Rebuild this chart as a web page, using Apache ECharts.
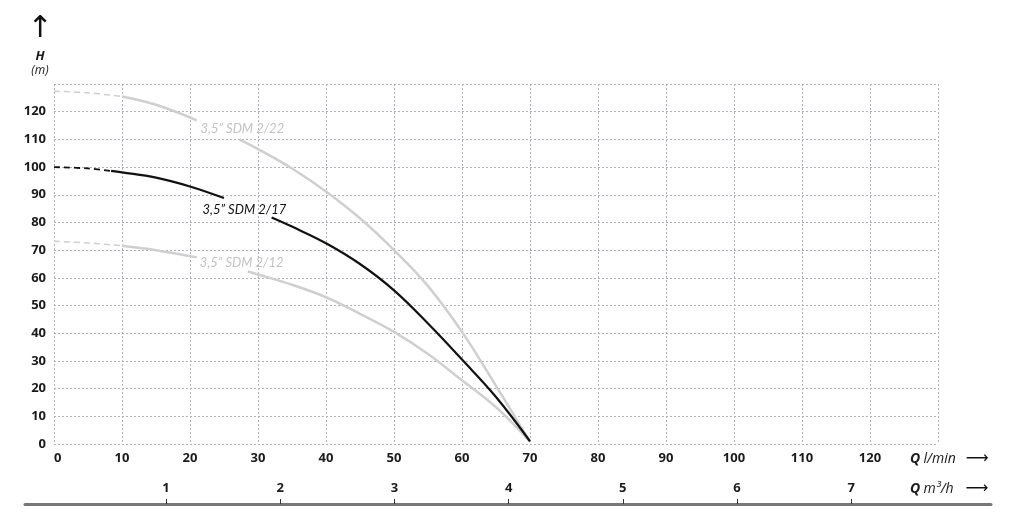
<!DOCTYPE html>
<html>
<head>
<meta charset="utf-8">
<script src="https://cdn.jsdelivr.net/npm/echarts@6/dist/echarts.min.js"></script>
<style>
  html, body { margin: 0; padding: 0; background: #fff; }
  #chart { width: 1024px; height: 526px; }
</style>
</head>
<body>
<div id="chart"></div>
<script>
// Q (l/min), H (m); each curve is split: dashed start, solid, gap for its label, solid
const sdm22Dash = [[0, 127.4], [5, 126.8], [10, 125.5]]
const sdm22A = [[10, 125.5], [15, 122.5], [21, 116.9]]
const sdm22B = [[27.3, 109.9], [30, 106.5], [35, 99.5], [40, 91.2], [45, 81.5], [50, 70], [55, 57], [60, 40.5], [65, 21], [70, 0.8]]

const sdm17Dash = [[0, 100], [5, 99.5], [8.4, 98.6]]
const sdm17A = [[8.4, 98.6], [10, 98.1], [15, 96.2], [20, 93], [25, 88.8]]
const sdm17B = [[32, 81.8], [35, 78.5], [40, 72.5], [45, 65], [50, 55.5], [55, 43.5], [60, 30.5], [65, 17], [70, 1]]

const sdm12Dash = [[0, 73.2], [5, 72.6], [10, 71.6]]
const sdm12A = [[10, 71.6], [15, 70], [21, 67.4]]
const sdm12B = [[28.5, 62.3], [30, 61.2], [35, 57.5], [40, 53], [45, 47], [50, 40.5], [55, 32.5], [60, 23], [65, 13.3], [70, 0.8]]

const curveNames = ['3,5\u201D SDM 2/22', '3,5\u201D SDM 2/17', '3,5\u201D SDM 2/12']
const labelAt = [[27.7, 113.8], [28, 84.6], [27.6, 65.6]]

const m3hTicks = [1, 2, 3, 4, 5, 6, 7]

const LIGHT = '#cfcfcf'
const DARK = '#111'
const gridLine = { show: true, lineStyle: { color: '#b3aeb8', type: [2, 2], width: 1 } }
const tickFont = { fontFamily: 'Open Sans', fontWeight: 'bold', fontSize: 13, color: '#1a1a1a' }

function seg (data, color, width, dashed, label, at) {
  const s = {
    type: 'line',
    data: data,
    smooth: 0.4,
    symbol: 'none',
    silent: true,
    lineStyle: { color: color, width: width, type: dashed ? [6, 4] : 'solid' }
  }
  if (label) {
    s.markPoint = {
      symbol: 'circle',
      symbolSize: 1,
      silent: true,
      itemStyle: { color: 'rgba(0,0,0,0)' },
      label: {
        show: true,
        position: 'inside',
        formatter: label,
        fontFamily: 'Lato',
        fontStyle: 'italic',
        fontSize: 13,
        color: color === DARK ? '#111' : '#c2c2c2'
      },
      data: [{ coord: at }]
    }
  }
  return s
}

const chart = echarts.init(document.getElementById('chart'))
chart.setOption({
  animation: false,
  grid: [
    { left: 54, right: 86, top: 84, bottom: 82 },
    { left: 25, right: 33, top: 503, bottom: 22 }
  ],
  xAxis: [
    {
      type: 'value', gridIndex: 0, min: 0, max: 130, interval: 10,
      axisLine: { show: false }, axisTick: { show: false },
      splitLine: gridLine,
      axisLabel: Object.assign({ margin: 8, showMaxLabel: false, alignMinLabel: 'left' }, tickFont),
      name: '{q|Q} {u|l/min}{a|\u27F6}',
      nameLocation: 'end',
      nameGap: -28,
      nameTextStyle: {
        padding: [30, 0, 0, 0],
        rich: {
          q: { fontFamily: 'Open Sans', fontWeight: 'bold', fontStyle: 'italic', fontSize: 14, color: '#1a1a1a' },
          u: { fontFamily: 'Open Sans', fontStyle: 'italic', fontSize: 14, color: '#1a1a1a' },
          a: { fontFamily: 'DejaVu Sans', fontSize: 16, color: '#111', padding: [0, 0, 0, 10] }
        }
      }
    },
    {
      type: 'value', gridIndex: 1, min: -0.235, max: 8.224,
      axisLine: { show: true, lineStyle: { color: '#777', width: 3 } },
      axisTick: { show: true, inside: true, length: 5, customValues: m3hTicks, lineStyle: { color: '#333', width: 1 } },
      axisLabel: Object.assign({ inside: true, margin: 9, customValues: m3hTicks }, tickFont),
      splitLine: { show: false },
      name: '{q|Q} {u|m\u00B3/h}{a|\u27F6}',
      nameLocation: 'end',
      nameGap: -81,
      nameTextStyle: {
        padding: [0, 0, 30, 0],
        rich: {
          q: { fontFamily: 'Open Sans', fontWeight: 'bold', fontStyle: 'italic', fontSize: 14, color: '#1a1a1a' },
          u: { fontFamily: 'Open Sans', fontStyle: 'italic', fontSize: 14, color: '#1a1a1a' },
          a: { fontFamily: 'DejaVu Sans', fontSize: 16, color: '#111', padding: [0, 0, 0, 12] }
        }
      }
    }
  ],
  yAxis: [
    {
      type: 'value', gridIndex: 0, min: 0, max: 130, interval: 10,
      axisLine: { show: false }, axisTick: { show: false },
      splitLine: gridLine,
      axisLabel: Object.assign({ margin: 8, showMaxLabel: false }, tickFont),
      name: '{a|\u2191}\n{h|H}\n{m|(m)}',
      nameLocation: 'end',
      nameGap: 6,
      nameTextStyle: {
        align: 'center',
        padding: [0, 28, 0, 0],
        rich: {
          a: { fontFamily: 'DejaVu Sans', fontSize: 30, lineHeight: 40, color: '#111', align: 'center' },
          h: { fontFamily: 'Open Sans', fontWeight: 'bold', fontStyle: 'italic', fontSize: 13, lineHeight: 15, color: '#1a1a1a', align: 'center' },
          m: { fontFamily: 'Open Sans', fontStyle: 'italic', fontSize: 12, lineHeight: 14, color: '#1a1a1a', align: 'center' }
        }
      }
    },
    { type: 'value', gridIndex: 1, show: false }
  ],
  series: [
    seg(sdm22Dash, LIGHT, 1.5, true),
    seg(sdm22A, LIGHT, 2.5, false),
    seg(sdm22B, LIGHT, 2.5, false, curveNames[0], labelAt[0]),
    seg(sdm12Dash, LIGHT, 1.5, true),
    seg(sdm12A, LIGHT, 2.5, false),
    seg(sdm12B, LIGHT, 2.5, false, curveNames[2], labelAt[2]),
    seg(sdm17Dash, DARK, 1.8, true),
    seg(sdm17A, DARK, 2.2, false),
    seg(sdm17B, DARK, 2.2, false, curveNames[1], labelAt[1])
  ]
})
</script>
</body>
</html>
